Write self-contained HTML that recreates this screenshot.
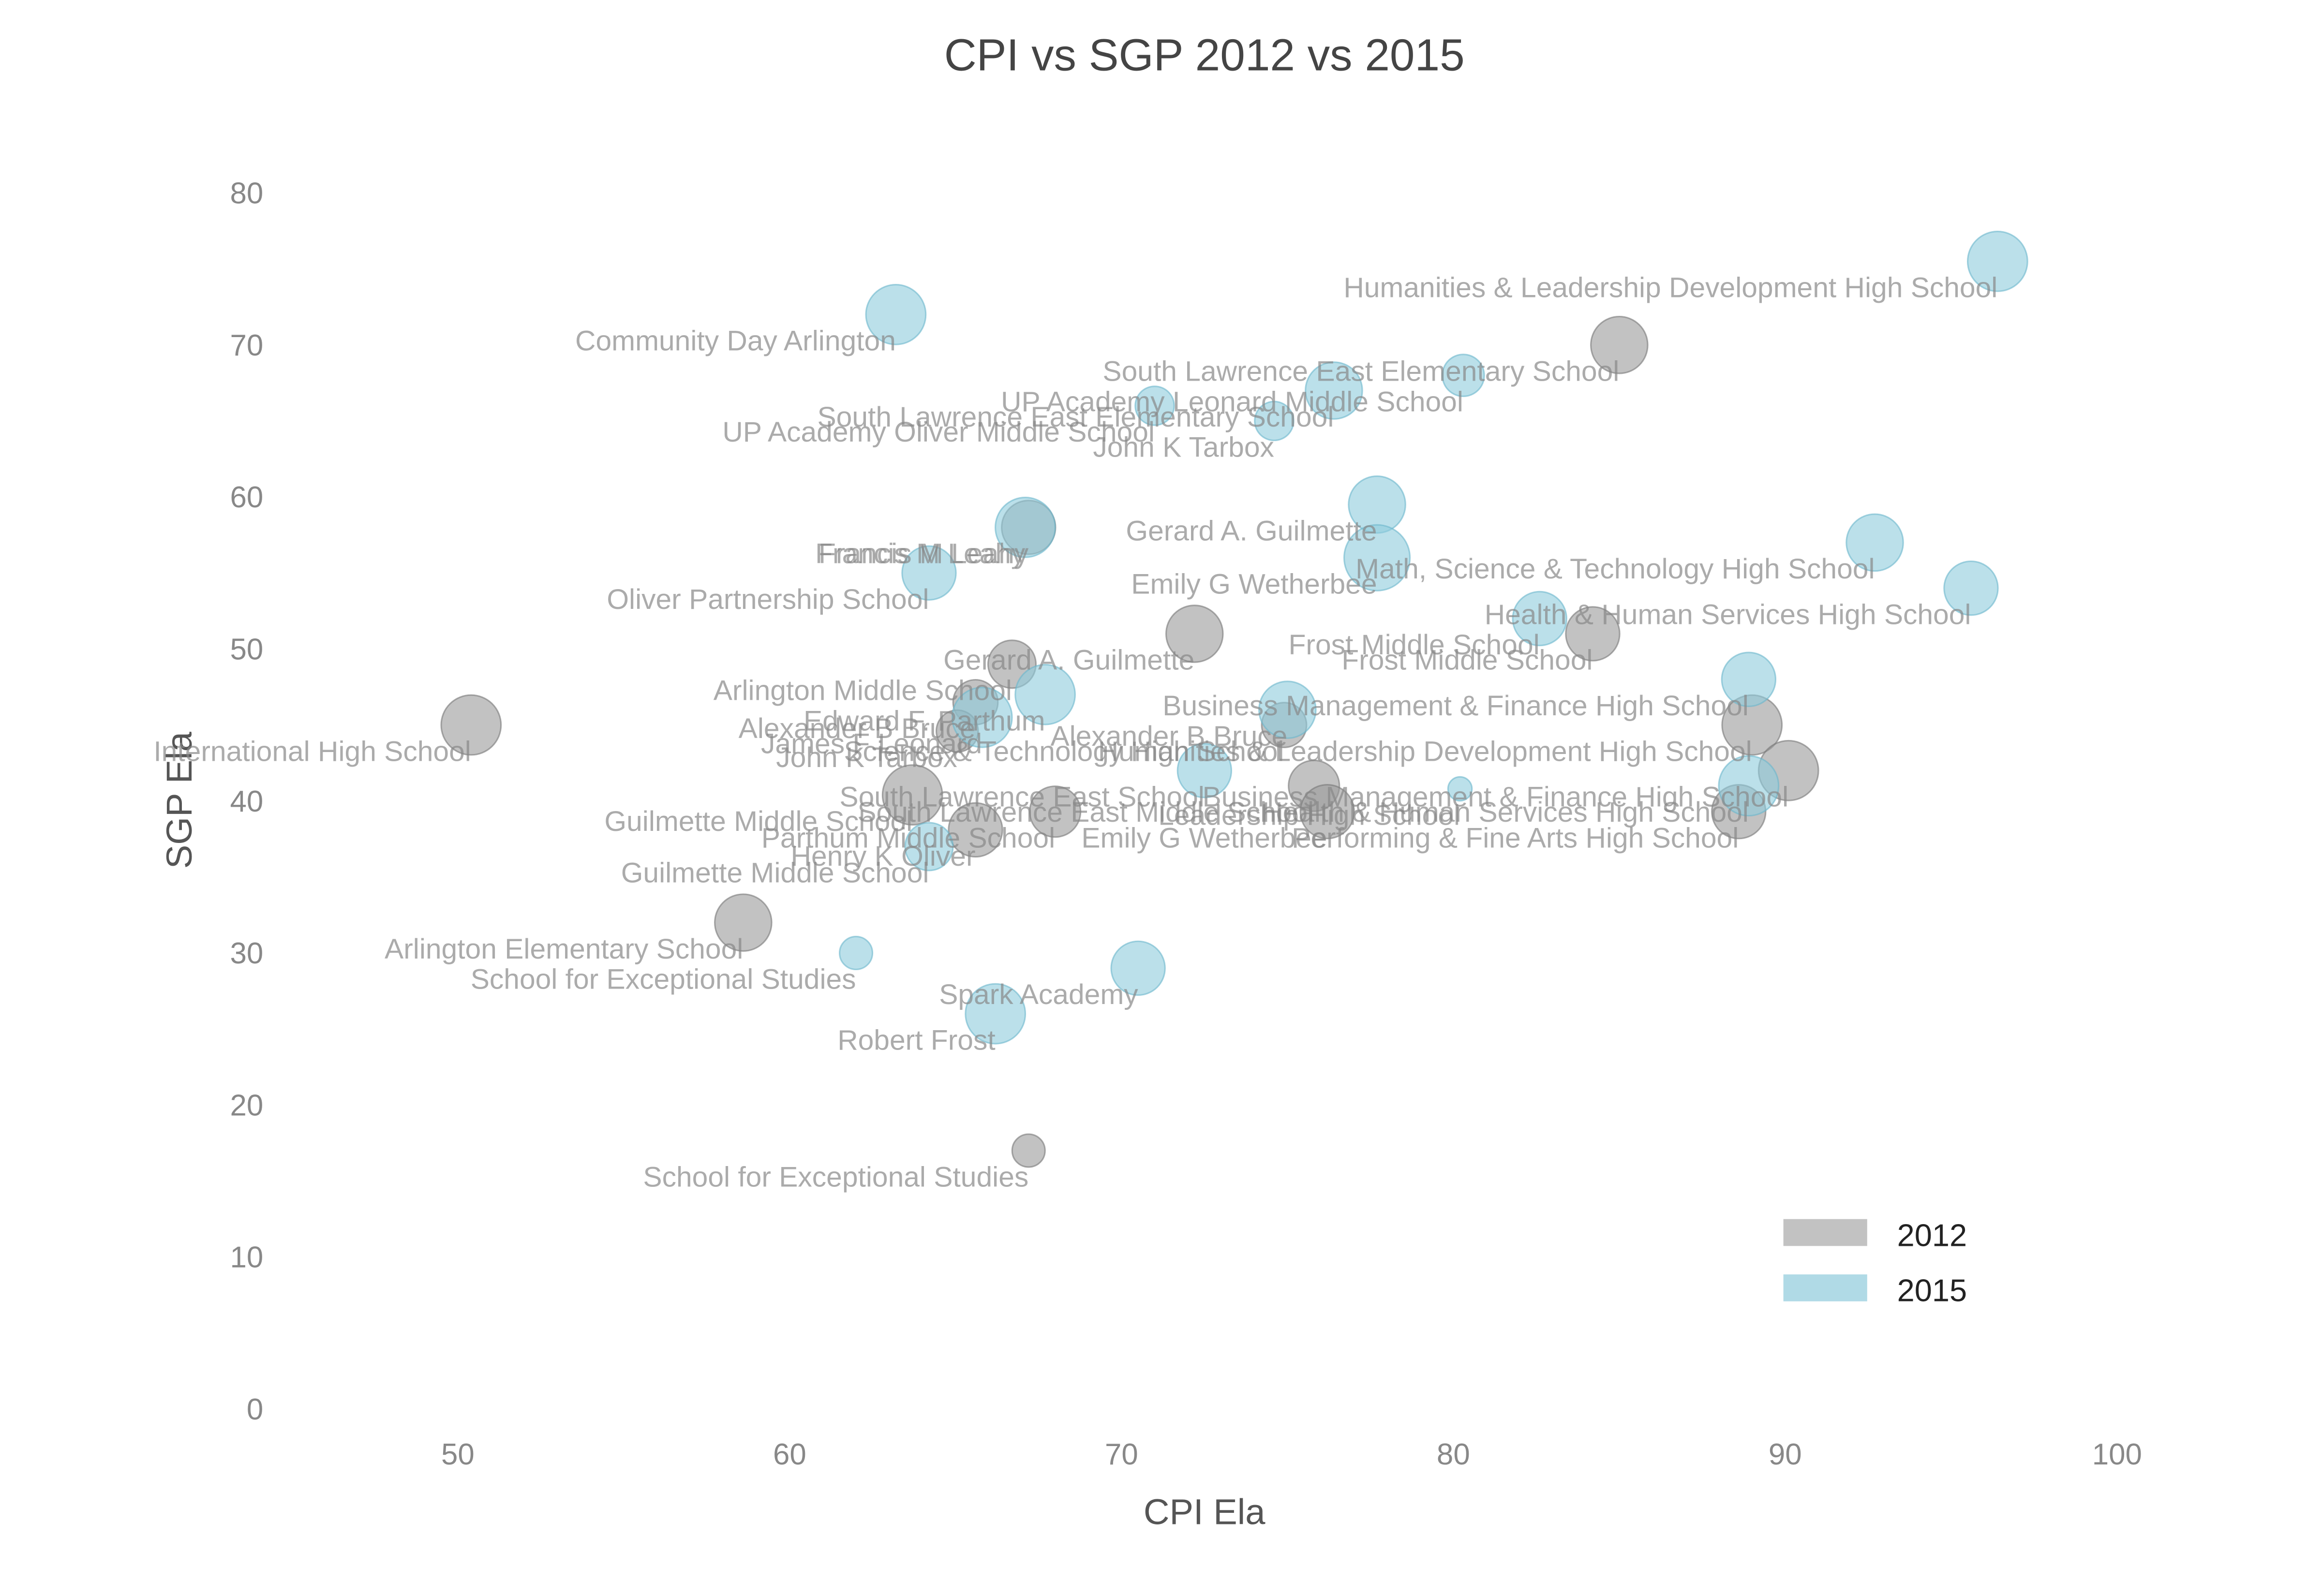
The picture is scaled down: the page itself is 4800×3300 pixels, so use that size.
<!DOCTYPE html>
<html><head><meta charset="utf-8"><style>
html,body{margin:0;padding:0;background:#fff}
svg{display:block}
text{font-family:"Liberation Sans",Arial,sans-serif}
</style></head><body>
<svg id="chart" width="4800" height="3300" viewBox="0 0 1552 1067" preserveAspectRatio="none" xmlns="http://www.w3.org/2000/svg">
<rect width="1552" height="1067" fill="#fff"/>
<text x="805" y="47" text-anchor="middle" font-size="30" fill="#444">CPI vs SGP 2012 vs 2015</text>
<text x="805" y="1019" text-anchor="middle" font-size="24" fill="#555">CPI Ela</text>
<text transform="translate(128,535) rotate(-90)" text-anchor="middle" font-size="24" fill="#555">SGP Ela</text>
<g id="ticks"></g>
<g id="marks"></g>
<g id="labels"></g>
<g>
<rect x="1192" y="815" width="56" height="18" fill="#999" fill-opacity="0.6"/>
<text x="1268" y="833" font-size="21" fill="#222">2012</text>
<rect x="1192" y="852" width="56" height="18" fill="#8ecbdc" fill-opacity="0.7"/>
<text x="1268" y="870" font-size="21" fill="#222">2015</text>
</g>
</svg>
<script>
const xTicks = [50, 60, 70, 80, 90, 100];
const yTicks = [0, 10, 20, 30, 40, 50, 60, 70, 80];
const cpi2012 = [50.4, 58.6, 67.2, 85.0, 67.2, 72.2, 84.2, 66.7, 65.6, 65.05, 63.7, 65.6, 68.0, 75.8, 76.2, 89.0, 90.1, 88.6, 74.9];
const sgp2012 = [45, 32, 17, 70, 58, 51, 51, 49, 46.5, 44.6, 40.4, 38.1, 39.3, 41, 39.3, 45, 42, 39.3, 45];
const size2012 = [20, 19, 11, 19, 18, 19, 18, 16, 15, 14, 20, 18, 17, 17, 18, 20, 20, 18, 15];
const names2012 = ["International High School","Arlington Elementary School","School for Exceptional Studies","South Lawrence East Elementary School","Francis M Leahy","Gerard A. Guilmette","Frost Middle School","Arlington Middle School","Alexander B Bruce","John K Tarbox","Guilmette Middle School","Henry K Oliver","Parthum Middle School","South Lawrence East Middle School","Emily G Wetherbee","Humanities & Leadership Development High School","Business Management & Finance High School","Performing & Fine Arts High School","Science & Technology High School"];
const cpi2015 = [96.4, 63.2, 80.3, 76.4, 71.0, 74.6, 77.7, 67.1, 77.7, 64.2, 92.7, 95.6, 82.6, 67.7, 88.9, 75.0, 65.8, 72.5, 80.2, 88.9, 64.2, 62.0, 70.5, 66.2];
const sgp2015 = [75.5, 72, 68, 67, 66, 65, 59.5, 58, 56, 55, 57, 54, 52, 47, 48, 46, 45.5, 42, 40.8, 41, 37, 30, 29, 26];
const size2015 = [20, 20, 14, 19, 13, 13, 19, 20, 22, 18, 19, 18, 18, 20, 18, 19, 20, 18, 8, 20, 16, 11, 18, 20];
const names2015 = ["Humanities & Leadership Development High School","Community Day Arlington","UP Academy Leonard Middle School","South Lawrence East Elementary School","UP Academy Oliver Middle School","John K Tarbox","Gerard A. Guilmette","Francis M Leahy","Emily G Wetherbee","Oliver Partnership School","Math, Science & Technology High School","Health & Human Services High School","Frost Middle School","Edward F. Parthum","Business Management & Finance High School","Alexander B Bruce","James F Leonard","South Lawrence East School","Leadership High School","Health & Human Services High School","Guilmette Middle School","School for Exceptional Studies","Spark Academy","Robert Frost"];

const NS = "http://www.w3.org/2000/svg";
function xs(v){ return 306 + (v - 50) * (1415 - 306) / 50; }
function ys(v){ return 942 - v * (942 - 129) / 80; }
const ticksG = document.getElementById('ticks');
xTicks.forEach(t => {
  const el = document.createElementNS(NS, 'text');
  
  
  el.setAttribute('x', xs(t)); el.setAttribute('y', 979);
  el.setAttribute('text-anchor', 'middle'); el.setAttribute('font-size', '20'); el.setAttribute('fill', '#888');
  el.textContent = t; ticksG.appendChild(el);
});
yTicks.forEach(t => {
  const el = document.createElementNS(NS, 'text');
  
  
  el.setAttribute('x', 176); el.setAttribute('y', ys(t) + 7);
  el.setAttribute('text-anchor', 'end'); el.setAttribute('font-size', '20'); el.setAttribute('fill', '#888');
  el.textContent = t; ticksG.appendChild(el);
});
const marksG = document.getElementById('marks');
const labelsG = document.getElementById('labels');
function drawSeries(xv, yv, sz, nm, fill, stroke, tag){
  xv.forEach((x, i) => {
    const c = document.createElementNS(NS, 'circle');
    
    
    c.setAttribute('cx', xs(x)); c.setAttribute('cy', ys(yv[i])); c.setAttribute('r', sz[i]);
    c.setAttribute('fill', fill); c.setAttribute('fill-opacity', '0.6');
    c.setAttribute('stroke', stroke); c.setAttribute('stroke-opacity', '0.6'); c.setAttribute('stroke-width', '1');
    marksG.appendChild(c);
    const t = document.createElementNS(NS, 'text');
    
    
    t.setAttribute('x', xs(x)); t.setAttribute('y', ys(yv[i]) + 24);
    t.setAttribute('text-anchor', 'end'); t.setAttribute('font-size', '19'); t.setAttribute('fill', '#888'); t.setAttribute('fill-opacity', '0.7');
    t.textContent = nm[i]; labelsG.appendChild(t);
  });
}
drawSeries(cpi2012, sgp2012, size2012, names2012, '#999', '#777', '2012');
drawSeries(cpi2015, sgp2015, size2015, names2015, '#8ecbdc', '#6bb5cc', '2015');
</script>
</body></html>
